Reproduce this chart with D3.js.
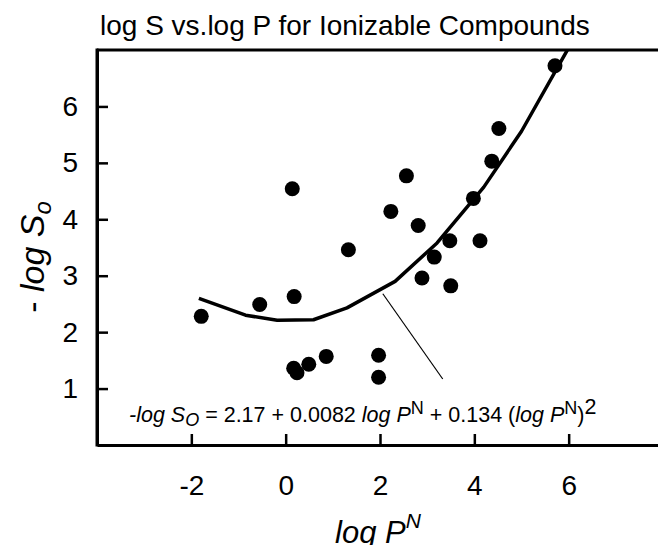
<!DOCTYPE html>
<html>
<head>
<meta charset="utf-8">
<script src="https://cdn.jsdelivr.net/npm/d3@7"></script>
<style>
  body { margin: 0; background: #fff; }
  svg { display: block; font-family: "Liberation Sans", Arial, Helvetica, sans-serif; }
</style>
</head>
<body>
<svg id="chart" width="658" height="545"></svg>
<script>
// ---- data ----
const logP = [-1.79, -0.55, 0.18, 0.14, 1.33, 2.56, 2.23, 2.81, 3.15, 2.89, 0.17, 0.24, 0.49, 0.86, 1.97, 1.97, 3.48, 3.50, 4.52, 4.37, 3.98, 4.12, 5.71];
const logS = [2.28, 2.49, 2.63, 4.54, 3.46, 4.77, 4.14, 3.89, 3.33, 2.96, 1.36, 1.28, 1.43, 1.57, 1.59, 1.20, 3.62, 2.82, 5.61, 5.03, 4.37, 3.62, 6.72];
const fitX = [-1.84, -0.85, -0.18, 0.59, 1.30, 2.32, 3.21, 4.20, 5.00, 6.00];
const fitY = [2.60, 2.30, 2.21, 2.22, 2.43, 2.90, 3.58, 4.57, 5.56, 7.04];
const annX = [2.06, 3.33];
const annY = [2.68, 1.17];
const xTicks = [-2, 0, 2, 4, 6];
const yTicks = [1, 2, 3, 4, 5, 6];
const titleText = "log S vs.log P for Ionizable Compounds";

const svg = d3.select("#chart");
const mLeft = 97, mTop = 50, mBottom = 445, mRight = 663;
const x = d3.scaleLinear().domain([-4, 8]).range([mLeft, mRight]);
const y = d3.scaleLinear().domain([0, 7]).range([mBottom, mTop]);

svg.append("defs").append("clipPath").attr("id", "clip")
  .append("rect").attr("x", mLeft).attr("y", mTop).attr("width", mRight - mLeft).attr("height", mBottom - mTop);

// title
svg.append("text").attr("x", 100).attr("y", 35)
  .attr("font-size", 28).attr("fill", "#000").text(titleText);

// axes
const xAxis = svg.append("g").attr("transform", `translate(0,${mBottom})`)
  .call(d3.axisBottom(x).tickValues(xTicks).tickSize(-11).tickSizeOuter(0).tickPadding(30)
    .tickFormat(d => d < 0 ? "-" + Math.abs(d) : String(d)));
const yAxis = svg.append("g").attr("transform", `translate(${mLeft},0)`)
  .call(d3.axisLeft(y).tickValues(yTicks).tickSize(-11).tickSizeOuter(0).tickPadding(19)
    .tickFormat(d3.format("d")));
[xAxis, yAxis].forEach(g => {
  g.select(".domain").attr("stroke-width", 3).attr("stroke", "#000");
  g.selectAll(".tick line").attr("stroke-width", 2.5).attr("stroke", "#000");
  g.selectAll(".tick text").attr("font-size", 28).attr("fill", "#000")
    .attr("font-family", "Liberation Sans, Arial, sans-serif");
});
// top frame line
svg.append("line").attr("x1", x(-4)).attr("x2", x(8)).attr("y1", y(7)).attr("y2", y(7))
  .attr("stroke", "#000").attr("stroke-width", 3);
// left frame line full height
svg.append("line").attr("x1", x(-4)).attr("x2", x(-4)).attr("y1", y(0) + 1.5).attr("y2", y(7) - 1.5)
  .attr("stroke", "#000").attr("stroke-width", 3);

// fitted curve
const fit = fitX.map((v, i) => [v, fitY[i]]);
svg.append("path").datum(fit).attr("clip-path", "url(#clip)")
  .attr("fill", "none").attr("stroke", "#000").attr("stroke-width", 3.5).attr("stroke-linejoin", "round")
  .attr("d", d3.line().x(d => x(d[0])).y(d => y(d[1])));

// annotation leader
svg.append("line").attr("x1", x(annX[0])).attr("y1", y(annY[0])).attr("x2", x(annX[1])).attr("y2", y(annY[1]))
  .attr("stroke", "#000").attr("stroke-width", 1.2);

// points
svg.append("g").selectAll("circle").data(logP.map((v, i) => [v, logS[i]])).join("circle")
  .attr("cx", d => x(d[0])).attr("cy", d => y(d[1])).attr("r", 7.5).attr("fill", "#000");

// equation
const eq = svg.append("text").attr("x", 129).attr("y", 422).attr("font-size", 21.5).attr("fill", "#000");
eq.append("tspan").attr("font-style", "italic").text("-log S");
eq.append("tspan").attr("font-style", "italic").attr("font-size", 18).attr("dy", 4).text("O");
eq.append("tspan").attr("dy", -4).text(" = 2.17 + 0.0082 ");
eq.append("tspan").attr("font-style", "italic").text("log P");
eq.append("tspan").attr("font-size", 18).attr("dy", -8).text("N");
eq.append("tspan").attr("dy", 8).text(" + 0.134 (");
eq.append("tspan").attr("font-style", "italic").text("log P");
eq.append("tspan").attr("font-size", 18).attr("dy", -8).text("N");
eq.append("tspan").attr("dy", 8).text(")");
eq.append("tspan").attr("dy", -8).text("2");

// y axis title
const yt = svg.append("text").attr("transform", "translate(44,257) rotate(-90)")
  .attr("text-anchor", "middle").attr("font-size", 34).attr("fill", "#000");
yt.append("tspan").text("- ");
yt.append("tspan").attr("font-style", "italic").text("log S");
yt.append("tspan").attr("font-style", "italic").attr("font-size", 24).attr("dy", 7).text("o");

// x axis title
const xt = svg.append("text").attr("x", 378).attr("y", 543)
  .attr("text-anchor", "middle").attr("font-size", 31).attr("fill", "#000");
xt.append("tspan").attr("font-style", "italic").text("log P");
xt.append("tspan").attr("font-style", "italic").attr("font-size", 21).attr("dy", -15).text("N");
</script>
</body>
</html>
